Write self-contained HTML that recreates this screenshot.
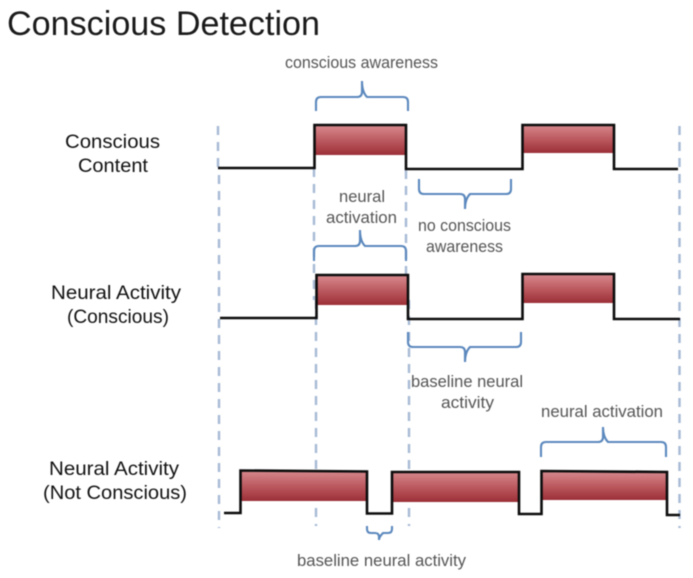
<!DOCTYPE html>
<html><head><meta charset="utf-8"><style>
html,body{margin:0;padding:0;background:#fff;width:693px;height:578px;overflow:hidden}
svg{display:block;filter:blur(0.45px)}
text{font-family:"Liberation Sans",sans-serif}
.g{fill:#555;font-size:16.5px}
.k{fill:#111;font-size:19.5px}
.d{stroke:#a6b9d5;stroke-width:2.4;stroke-dasharray:9 7;fill:none}
.t{stroke:#0c0c0c;stroke-width:2.6;fill:none;stroke-linejoin:miter}
.b{stroke:#5b88bd;stroke-width:2.1;fill:none}
</style></head><body>
<svg width="693" height="578" viewBox="0 0 693 578" xmlns="http://www.w3.org/2000/svg">
<defs><linearGradient id="r" x1="0" y1="0" x2="0" y2="1">
<stop offset="0" stop-color="#d6888c"/><stop offset="0.5" stop-color="#bb5a60"/><stop offset="1" stop-color="#9c2f37"/>
</linearGradient></defs>
<text x="7" y="35" font-size="34.500" fill="#1a1a1a" textLength="313" lengthAdjust="spacingAndGlyphs">Conscious Detection</text>

<path class="d" d="M218 126V168M219 175V528"/>
<path class="d" d="M314 168V300M316 300V526"/>
<path class="d" d="M406 170V300M409 300V526"/>
<path class="d" d="M679.500 126V528"/>

<rect x="315" y="126" width="91" height="29" fill="url(#r)"/>
<rect x="523" y="125" width="91" height="28" fill="url(#r)"/>
<rect x="317" y="276" width="91" height="29" fill="url(#r)"/>
<rect x="523" y="275" width="91" height="28" fill="url(#r)"/>
<rect x="241" y="471" width="126" height="30" fill="url(#r)"/>
<rect x="393" y="472" width="126" height="30" fill="url(#r)"/>
<rect x="542" y="472" width="125" height="28" fill="url(#r)"/>

<path class="t" d="M218 168H314.500V125H406V169H522.500V125H614V169H678"/>
<path class="t" d="M220 318H316.500V275H408V319H522.500V274H614V319H680"/>
<path class="t" d="M224 513H240.500V470.500L367 471.500V513.500H392V472H519V514H541.500V471L667 472V515H680"/>

<path class="b" d="M316 111V102Q316 97 321 97H357Q362 97 362 92V81Q362 92 367 97H403Q408 97 408 102V111"/>
<path class="b" d="M419 179V189Q419 194 424 194H460Q465 194 465 199V209Q465 199 470 194H506Q511 194 511 189V179"/>
<path class="b" d="M314 261V251Q314 246 319 246H355Q360 246 360 241V230Q360 241 365 246H401Q406 246 406 251V261"/>
<path class="b" d="M408 332V342Q408 347 413 347H460Q465 347 465 352V362Q465 352 470 347H516Q521 347 521 342V332"/>
<path class="b" d="M541 457V447Q541 442 546 442H598Q603 442 603 437V427Q603 437 608 442H661Q666 442 666 447V457"/>
<path class="b" d="M367 526V529Q367 533 371 533H375Q379 533 379 537V540Q379 537 383 533H388Q392 533 392 529V526"/>

<text class="g" x="285" y="68" textLength="153" lengthAdjust="spacingAndGlyphs">conscious awareness</text>
<text class="g" x="339" y="202" textLength="46" lengthAdjust="spacingAndGlyphs">neural</text>
<text class="g" x="326" y="223" textLength="71" lengthAdjust="spacingAndGlyphs">activation</text>
<text class="g" x="418" y="231" textLength="93" lengthAdjust="spacingAndGlyphs">no conscious</text>
<text class="g" x="426" y="252" textLength="77" lengthAdjust="spacingAndGlyphs">awareness</text>
<text class="g" x="411" y="387" textLength="112" lengthAdjust="spacingAndGlyphs">baseline neural</text>
<text class="g" x="441" y="408" textLength="53" lengthAdjust="spacingAndGlyphs">activity</text>
<text class="g" x="541" y="417" textLength="122" lengthAdjust="spacingAndGlyphs">neural activation</text>
<text class="g" x="297" y="566" textLength="169" lengthAdjust="spacingAndGlyphs">baseline neural activity</text>

<text class="k" x="65" y="148" textLength="95" lengthAdjust="spacingAndGlyphs">Conscious</text>
<text class="k" x="78" y="172" textLength="70" lengthAdjust="spacingAndGlyphs">Content</text>
<text class="k" x="51" y="299" textLength="130" lengthAdjust="spacingAndGlyphs">Neural Activity</text>
<text class="k" x="67" y="323" textLength="102" lengthAdjust="spacingAndGlyphs">(Conscious)</text>
<text class="k" x="49" y="475" textLength="130" lengthAdjust="spacingAndGlyphs">Neural Activity</text>
<text class="k" x="43" y="499" textLength="144" lengthAdjust="spacingAndGlyphs">(Not Conscious)</text>
</svg>
</body></html>
